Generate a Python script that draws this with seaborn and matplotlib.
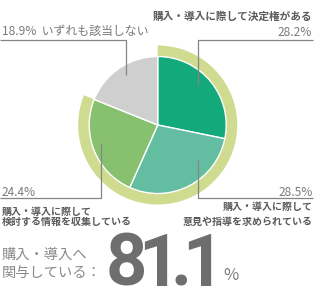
import matplotlib
matplotlib.use('Agg')
import matplotlib.pyplot as plt
import seaborn as sns

# data
labels = ['購入・導入に際して決定権がある',
          '購入・導入に際して\n意見や指導を求められている',
          '購入・導入に際して\n検討する情報を収集している',
          'いずれも該当しない']
shares = [28.2, 28.5, 24.4, 18.9]
slice_colors = ['#13a97b', '#63bea1', '#87c170', '#cfcfcf']
involved = 81.1   # sum of the first three
ring_color = '#cfdb8e'

sns.set_theme(style='white')
plt.rcParams['font.family'] = ['Noto Sans CJK JP', 'DejaVu Sans']

fig = plt.figure(figsize=(3.15, 2.9), dpi=100)
ax = fig.add_axes([0, 0, 1, 1])

cx, cy = 157.7, 165

# outer ring showing the involved share
ax.pie([involved, 100 - involved], radius=79.5, center=(cx, cy),
       colors=[ring_color, 'none'], startangle=90, counterclock=False,
       wedgeprops=dict(width=11, linewidth=0), frame=True)

ax.pie(shares, radius=68.5, center=(cx, cy), colors=slice_colors,
       startangle=90, counterclock=False,
       wedgeprops=dict(edgecolor='white', linewidth=1), frame=True)
ax.set_xlim(0, 315)
ax.set_ylim(0, 290)
ax.set_aspect('equal')
ax.axis('off')

# leader lines
line_kw = dict(color='#858585', lw=0.9, solid_capstyle='butt')
ax.plot([198, 198, 313], [205, 250, 250], **line_kw)
ax.plot([125.7, 125.7, 0], [215, 250, 250], **line_kw)
ax.plot([198, 198, 313], [130, 92, 92], **line_kw)
ax.plot([100.7, 100.7, 0], [147, 92, 92], **line_kw)

grey = '#7a7a7a'
dark = '#5a5a5a'
small = 7.2

# top right
ax.text(312, 290 - 17, labels[0], ha='right', va='center', fontsize=7.7,
        color=dark, fontweight='bold')
ax.text(312, 290 - 33, f'{shares[0]}%', ha='right', va='center', fontsize=8.6, color=grey)
# top left
ax.text(2, 290 - 31, f'{shares[3]}%  {labels[3]}', ha='left', va='center',
        fontsize=8.6, color=grey)
# bottom right
ax.text(313, 290 - 192, f'{shares[1]}%', ha='right', va='center', fontsize=8.6, color=grey)
l1, l2 = labels[1].split('\n')
ax.text(313, 290 - 207, l1, ha='right', va='center', fontsize=small, color=dark, fontweight='bold')
ax.text(313, 290 - 221.5, l2, ha='right', va='center', fontsize=small, color=dark, fontweight='bold')
# bottom left
ax.text(2, 290 - 193, f'{shares[2]}%', ha='left', va='center', fontsize=8.6, color=grey)
l1, l2 = labels[2].split('\n')
ax.text(2, 290 - 211.5, l1, ha='left', va='center', fontsize=small, color=dark, fontweight='bold')
ax.text(2, 290 - 221.5, l2, ha='left', va='center', fontsize=small, color=dark, fontweight='bold')

# summary
ax.text(2, 290 - 255, '購入・導入へ', ha='left', va='center', fontsize=10.3, color='#8a8a8a')
ax.text(2, 290 - 273, '関与している：', ha='left', va='center', fontsize=10.3, color='#8a8a8a')
# big number, set tight one character at a time
big_x = [126, 159, 181, 202.5]
for ch, x in zip(f'{involved}', big_x):
    ax.text(x, 290 - 285.5, ch, ha='center', va='baseline', fontsize=52,
            fontweight='bold', color='#6e6e6e', family=['Roboto', 'DejaVu Sans'])
ax.text(223, 290 - 275.5, '%', ha='left', va='center', fontsize=12, color='#7a7a7a')

fig.savefig('out.png', dpi=100)
